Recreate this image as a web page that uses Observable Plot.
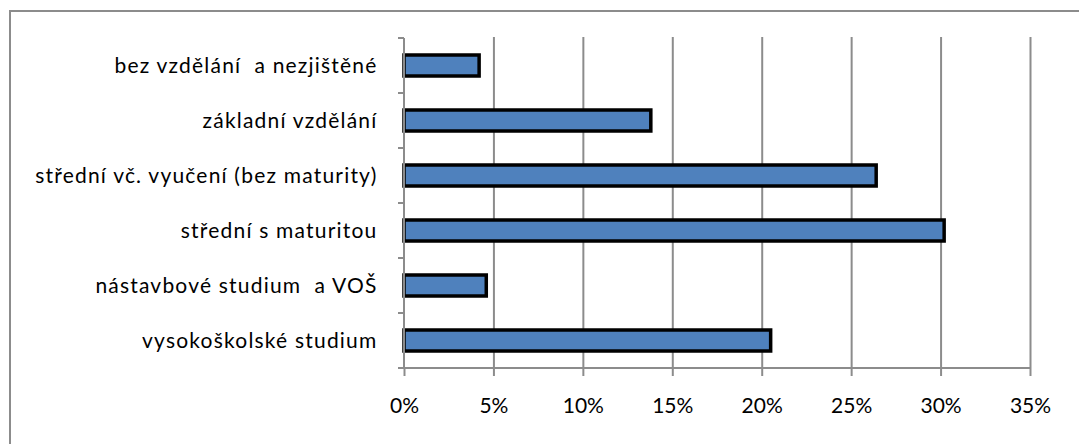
<!DOCTYPE html>
<html><head><meta charset="utf-8">
<script src="https://cdn.jsdelivr.net/npm/d3@7"></script>
<script src="https://cdn.jsdelivr.net/npm/@observablehq/plot@0.6"></script>
<style>
html,body{margin:0;padding:0;background:#fff;overflow:hidden}
#wrap{position:relative;width:1079px;height:444px}
#frame{position:absolute;left:9px;top:10px;width:1200px;height:600px;border:2px solid #8c8c8c;box-sizing:border-box}
#chart{position:absolute;left:0;top:0}
g[aria-label="y-axis tick label"] text{letter-spacing:1.2px}
</style></head>
<body><div id="wrap"><div id="frame"></div><div id="chart"></div></div>
<script>
const categories = [
  "bez vzdělání  a nezjištěné",
  "základní vzdělání",
  "střední vč. vyučení (bez maturity)",
  "střední s maturitou",
  "nástavbové studium  a VOŠ",
  "vysokoškolské studium"
];
const values = [0.042, 0.138, 0.264, 0.302, 0.046, 0.205];
const xTicks = [0, 0.05, 0.10, 0.15, 0.20, 0.25, 0.30, 0.35];

const data = categories.map((c, i) => ({cat: c, v: values[i]}));
const fmt = d => Math.round(d * 100) + "%";

const axesLines = (index, scales) => {
  const y = scales.y, x = scales.x;
  const bw = y.bandwidth();
  const step = y.step();
  const g = d3.create("svg:g").attr("stroke", "#8c8c8c").attr("stroke-width", 2);
  const x0 = x(0), x1 = x(0.35);
  const ys = categories.map(c => y(c) - (step - bw) / 2);
  const yBottom = y(categories[categories.length - 1]) + bw + (step - bw) / 2;
  ys.push(yBottom);
  for (const yy of ys) {
    g.append("line").attr("x1", x0 - 6).attr("x2", x0).attr("y1", yy).attr("y2", yy);
  }
  g.append("line").attr("x1", x0).attr("x2", x0).attr("y1", ys[0]).attr("y2", yBottom);
  g.append("line").attr("x1", x0).attr("x2", x1).attr("y1", yBottom).attr("y2", yBottom);
  return g.node();
};

const chart = Plot.plot({
  width: 1079,
  height: 444,
  marginLeft: 404,
  marginRight: 49,
  marginTop: 37,
  marginBottom: 76,
  style: {fontFamily: "Lato, 'Open Sans', sans-serif", fontSize: "21px", background: "transparent", color: "#000"},
  x: {domain: [0, 0.35], ticks: xTicks, tickFormat: fmt},
  y: {domain: categories, padding: 0, label: null},
  marks: [
    Plot.gridX(xTicks.slice(1), {stroke: "#8c8c8c", strokeOpacity: 1, strokeWidth: 2}),
    Plot.axisX(xTicks, {tickSize: 8, tickPadding: 22, stroke: "#8c8c8c", strokeWidth: 2, label: null, tickFormat: fmt, fontSize: 21}),
    Plot.axisY({tickSize: 0, tickPadding: 27, label: null, fontSize: 21}),
    Plot.barX(data, {x: "v", y: "cat", fill: "#4F81BD", stroke: "#000", strokeWidth: 3.5, insetTop: 17, insetBottom: 17}),
    axesLines
  ]
});
document.getElementById("chart").appendChild(chart);
</script>
</body></html>
